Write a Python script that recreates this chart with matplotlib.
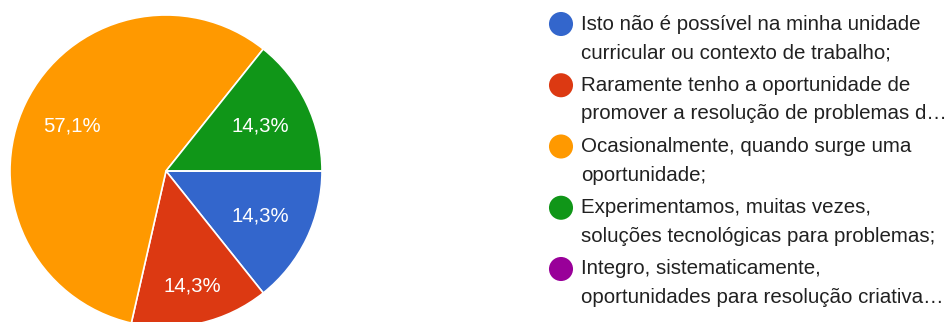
import matplotlib.pyplot as plt

plt.rcParams["font.family"] = ["Liberation Sans", "DejaVu Sans"]

# Response counts per option (7 responses in total)
labels = [
    "Isto não é possível na minha unidade\ncurricular ou contexto de trabalho;",
    "Raramente tenho a oportunidade de\npromover a resolução de problemas d…",
    "Ocasionalmente, quando surge uma\noportunidade;",
    "Experimentamos, muitas vezes,\nsoluções tecnológicas para problemas;",
    "Integro, sistematicamente,\noportunidades para resolução criativa…",
]
counts = [1, 1, 4, 1, 0]
colors = ["#3366cc", "#dc3912", "#ff9900", "#109618", "#990099"]

W, H = 953, 322


def pct_label(p):
    if p == 0:
        return ""
    return f"{p:.1f}%".replace(".", ",")


fig = plt.figure(figsize=(W / 100, H / 100), dpi=100)
ax = fig.add_axes((0, 0, 1, 1))

cx, cy = 166, H - 171
wedges, _, autotexts = ax.pie(
    counts,
    colors=colors,
    startangle=0,
    counterclock=False,
    center=(cx, cy),
    radius=156,
    autopct=pct_label,
    pctdistance=0.67,
    wedgeprops={"edgecolor": "white", "linewidth": 1.2},
    textprops={"fontsize": 14.6, "color": "white"},
)

# the lower slice label sits a bit further out
tx, ty = autotexts[1].get_position()
autotexts[1].set_position((cx + (tx - cx) * 1.13, cy + (ty - cy) * 1.13))

ax.set_xlim(0, W)
ax.set_ylim(0, H)
ax.set_aspect("equal")
ax.axis("off")

# legend on the right: coloured dot plus two-line label
legend_x = 561
text_x = 581
row_top = 24
row_step = 61.25
line_gap = 28.5
for i, (lab, col) in enumerate(zip(labels, colors)):
    y = H - (row_top + i * row_step)
    ax.scatter([legend_x], [y], s=300, color=col, edgecolors="none", zorder=3)
    first, second = lab.split("\n")
    ax.text(text_x, y, first, fontsize=14.8, color="#212121", va="center", ha="left")
    ax.text(text_x, y - line_gap, second, fontsize=14.8, color="#212121",
            va="center", ha="left")

fig.savefig("out.png", dpi=100)
